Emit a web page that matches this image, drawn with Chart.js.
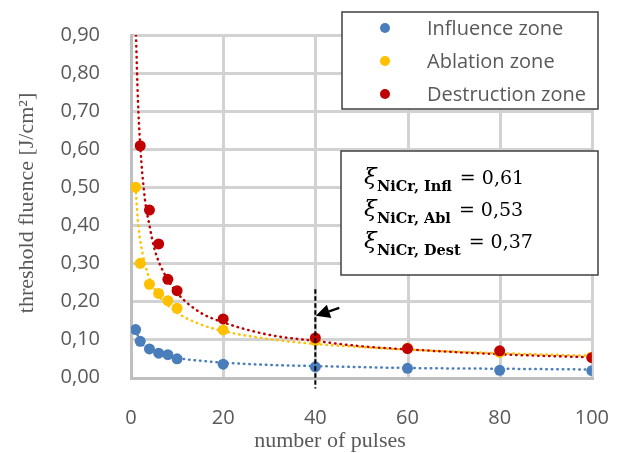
<!DOCTYPE html>
<html><head><meta charset="utf-8">
<script src="https://cdn.jsdelivr.net/npm/chart.js@4/dist/chart.umd.min.js"></script>
<style>html,body{margin:0;padding:0;background:#fff}#wrap{width:630px;height:453px;position:relative}</style>
</head><body><div id="wrap"><canvas id="c" width="630" height="453"></canvas></div>
<script>
// ---- data ----
const seriesNames = ['Influence zone', 'Ablation zone', 'Destruction zone'];
const pulsesInfl = [1, 2, 4, 6, 8, 10, 20, 40, 60, 80, 100];
const influence  = [0.126, 0.095, 0.075, 0.064, 0.060, 0.049, 0.035, 0.028, 0.024, 0.019, 0.018];
const pulsesAbl  = [1, 2, 4, 6, 8, 10, 20, 40, 60, 80, 100];
const ablation   = [0.50, 0.30, 0.245, 0.221, 0.202, 0.182, 0.125, 0.097, 0.077, 0.066, 0.054];
const pulsesDest = [2, 4, 6, 8, 10, 20, 40, 60, 80, 100];
const destruction = [0.609, 0.440, 0.351, 0.258, 0.228, 0.154, 0.104, 0.076, 0.070, 0.052];
// dotted trend lines
const trendInflX = [1, 2, 4, 6, 8, 10, 15, 20, 30, 40, 60, 80, 100];
const trendInfl  = [0.125, 0.095, 0.073, 0.062, 0.056, 0.051, 0.044, 0.039, 0.033, 0.030, 0.025, 0.023, 0.021];
const trendAblX  = [1, 1.5, 2, 3, 4, 5, 6, 8, 10, 15, 20, 30, 40, 50, 60, 80, 100];
const trendAbl   = [0.50, 0.41, 0.36, 0.30, 0.26, 0.235, 0.215, 0.19, 0.17, 0.14, 0.122, 0.101, 0.088, 0.080, 0.073, 0.064, 0.057];
const trendDestX = [1.08, 1.5, 2, 3, 4, 5, 6, 8, 10, 15, 20, 30, 40, 50, 60, 80, 100];
const trendDest  = [0.90, 0.73, 0.61, 0.47, 0.40, 0.342, 0.305, 0.257, 0.222, 0.171, 0.145, 0.112, 0.096, 0.082, 0.074, 0.061, 0.053];
const xTicks = [0, 20, 40, 60, 80, 100];
const yTickValues = [0, 0.1, 0.2, 0.3, 0.4, 0.5, 0.6, 0.7, 0.8, 0.9];
const yTickLabels = ['0,00','0,10','0,20','0,30','0,40','0,50','0,60','0,70','0,80','0,90'];
const xTitle = 'number of pulses';
const yTitle = 'threshold fluence [J/cm²]';
const xiSubs = ['NiCr, Infl', 'NiCr, Abl', 'NiCr, Dest'];
const xiVals = ['0,61', '0,53', '0,37'];
const markerLine = {x: 40, yTop: 0.232};
const arrow = {fromX: 45.2, fromY: 0.183, toX: 40.1, toY: 0.162};

const colors = ['#4a7ebb', '#ffc000', '#c00000'];
const grey = '#595959';
const tickFont = {family: '"Open Sans", sans-serif', size: 20};

function pts(xs, ys) { return xs.map((x, i) => ({x: x, y: ys[i]})); }

const pointSets = [[pulsesInfl, influence], [pulsesAbl, ablation], [pulsesDest, destruction]];
const trendSets = [[trendInflX, trendInfl], [trendAblX, trendAbl], [trendDestX, trendDest]];
const datasets = [];
pointSets.forEach((s, i) => datasets.push({
  type: 'scatter', label: seriesNames[i], data: pts(s[0], s[1]),
  backgroundColor: colors[i], borderColor: colors[i], pointRadius: 5.5, pointHoverRadius: 5.5,
  pointBorderWidth: 0, showLine: false, order: 2 - i
}));
trendSets.forEach((s, i) => datasets.push({
  type: 'line', label: 'trend ' + seriesNames[i], data: pts(s[0], s[1]),
  borderColor: colors[i], borderWidth: 2.5, borderDash: [0.5, 5], borderCapStyle: 'round',
  pointRadius: 0, fill: false, cubicInterpolationMode: 'monotone', order: 5 - i
}));

const deco = {
  id: 'deco',
  beforeDatasetsDraw(chart) {
    // grid lines through the library's scales, snapped to whole pixels
    const ctx = chart.ctx, xs = chart.scales.x, ys = chart.scales.y;
    const L = Math.round(xs.getPixelForValue(xTicks[0]));
    const R = Math.round(xs.getPixelForValue(xTicks[xTicks.length - 1]));
    const B = Math.round(ys.getPixelForValue(yTickValues[0]));
    const T = Math.round(ys.getPixelForValue(yTickValues[yTickValues.length - 1]));
    const W = R - L + 3;
    ctx.save();
    ctx.fillStyle = '#d2d2d2';
    for (let i = 0; i < yTickValues.length; i++) {
      const py = Math.round(ys.getPixelForValue(yTickValues[i]));
      ctx.fillRect(L - 1, py - 1, W, 3);
    }
    for (let i = 0; i < xTicks.length; i++) {
      const px = Math.round(xs.getPixelForValue(xTicks[i]));
      ctx.fillRect(px - 1, T - 1, 3, B - T + 2);
    }
    ctx.fillStyle = '#bfbfbf';
    ctx.fillRect(L - 1, T - 1, 3, B - T + 2);
    ctx.fillRect(L - 1, B - 1, W, 3);
    ctx.restore();
  },
  afterDatasetsDraw(chart) {
    const ctx = chart.ctx, xs = chart.scales.x, ys = chart.scales.y;
    ctx.save();
    // dashed vertical line
    const lx = xs.getPixelForValue(markerLine.x);
    ctx.strokeStyle = '#000'; ctx.lineWidth = 2; ctx.setLineDash([4.5, 2.5]);
    ctx.beginPath(); ctx.moveTo(lx, ys.getPixelForValue(markerLine.yTop)); ctx.lineTo(lx, ys.getPixelForValue(0) + 11); ctx.stroke();
    ctx.setLineDash([]);
    // arrow
    const ax0 = xs.getPixelForValue(arrow.fromX), ay0 = ys.getPixelForValue(arrow.fromY);
    const ax1 = xs.getPixelForValue(arrow.toX), ay1 = ys.getPixelForValue(arrow.toY);
    const ang = Math.atan2(ay1 - ay0, ax1 - ax0);
    const hl = 14, hw = 7;
    const bx = ax1 - hl * Math.cos(ang), by = ay1 - hl * Math.sin(ang);
    ctx.beginPath(); ctx.moveTo(ax0, ay0); ctx.lineTo(bx, by); ctx.lineWidth = 2.2; ctx.stroke();
    ctx.beginPath(); ctx.moveTo(ax1, ay1);
    ctx.lineTo(bx + hw * Math.sin(ang), by - hw * Math.cos(ang));
    ctx.lineTo(bx - hw * Math.sin(ang), by + hw * Math.cos(ang));
    ctx.closePath(); ctx.fillStyle = '#000'; ctx.fill();
    ctx.restore();
  },
  afterDraw(chart) {
    const ctx = chart.ctx;
    ctx.save();
    // axis titles
    ctx.fillStyle = grey; ctx.font = '22px "Liberation Serif", serif';
    ctx.textAlign = 'center'; ctx.textBaseline = 'middle';
    ctx.fillText(xTitle, 330, 441);
    ctx.translate(27, 203); ctx.rotate(-Math.PI / 2); ctx.fillText(yTitle, 0, 0);
    ctx.setTransform(1, 0, 0, 1, 0, 0);
    // legend box
    ctx.fillStyle = '#fff'; ctx.fillRect(342, 12, 256, 97);
    ctx.strokeStyle = '#404040'; ctx.lineWidth = 1.5; ctx.strokeRect(342, 12, 256, 97);
    const rows = [28, 61, 94];
    ctx.textAlign = 'left'; ctx.textBaseline = 'middle';
    ctx.font = '20px "Open Sans", sans-serif';
    for (let i = 0; i < 3; i++) {
      const ds = chart.data.datasets[i];
      ctx.fillStyle = ds.backgroundColor;
      ctx.beginPath(); ctx.arc(385, rows[i], 5, 0, Math.PI * 2); ctx.fill();
      ctx.fillStyle = grey; ctx.fillText(ds.label, 427, rows[i] + 1);
    }
    // formula box
    ctx.fillStyle = '#fff'; ctx.fillRect(341, 151, 257, 124);
    ctx.strokeStyle = '#404040'; ctx.strokeRect(341, 151, 257, 124);
    ctx.fillStyle = '#000'; ctx.textBaseline = 'alphabetic';
    for (let i = 0; i < 3; i++) {
      const by = 184 + i * 32;
      ctx.font = 'italic 23px "DejaVu Serif", serif';
      ctx.fillText('ξ', 364, by);
      ctx.font = 'bold 14.5px "DejaVu Serif", serif';
      ctx.fillText(xiSubs[i], 377, by + 7);
      const w = ctx.measureText(xiSubs[i]).width;
      ctx.font = '19px "DejaVu Serif", serif';
      ctx.fillText('= ' + xiVals[i], 377 + w + 8, by);
    }
    ctx.restore();
  }
};

new Chart(document.getElementById('c'), {
  type: 'scatter',
  data: {datasets: datasets},
  options: {
    responsive: false, animation: false,
    layout: {padding: {top: 19.5, right: 35.5, bottom: 0, left: 0}},
    plugins: {legend: {display: false}, tooltip: {enabled: false}},
    scales: {
      x: {
        type: 'linear', min: 0, max: 100,
        afterBuildTicks: s => { s.ticks = xTicks.map(v => ({value: v})); },
        afterFit: s => { s.height = 75.5; },
        ticks: {color: grey, font: tickFont, padding: 21, maxRotation: 0},
        grid: {display: false},
        border: {display: false}
      },
      y: {
        type: 'linear', min: 0, max: 0.9,
        afterBuildTicks: s => { s.ticks = yTickValues.map(v => ({value: v})); },
        ticks: {color: grey, font: tickFont, padding: 23,
          callback: (v, i) => yTickLabels[i]},
        afterFit: s => { s.width = 131; },
        grid: {display: false},
        border: {display: false}
      }
    }
  },
  plugins: [deco]
});
</script></body></html>
